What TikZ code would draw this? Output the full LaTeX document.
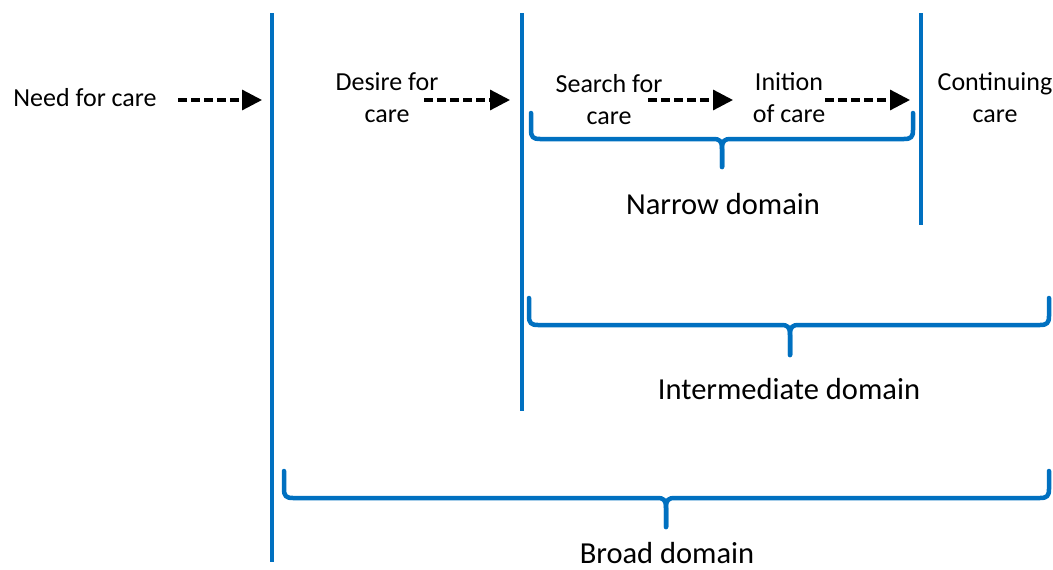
\documentclass[tikz,border=0pt]{standalone}
\usepackage{fontspec}
\setmainfont{Carlito}
\usetikzlibrary{arrows.meta}
\definecolor{bl}{RGB}{0,112,192}
\newcommand{\mybrace}[6]{% x1 x2 xm top h tip
  \draw[brace] (#1,#4) -- (#1,#5-9) .. controls (#1,#5-2) and (#1+2,#5) .. (#1+9,#5) -- (#3-9,#5) .. controls (#3-2,#5) and (#3,#5+2) .. (#3,#5+10) -- (#3,#6);
  \draw[brace] (#2,#4) -- (#2,#5-9) .. controls (#2,#5-2) and (#2-2,#5) .. (#2-9,#5) -- (#3+9,#5) .. controls (#3+2,#5) and (#3,#5+2) .. (#3,#5+10) -- (#3,#6);
}
\begin{document}
\begin{tikzpicture}[x=1pt,y=-1pt,
  vline/.style={draw=bl,line width=4.5pt},
  brace/.style={draw=bl,line width=4.5pt,line join=round,line cap=round},
  lbl/.style={font=\fontsize{26}{32}\selectfont,align=center,inner sep=0pt},
  dom/.style={font=\fontsize{30.5}{36}\selectfont,align=center,inner sep=0pt},
  darr/.style={line width=3.2pt,dash pattern=on 9pt off 4pt,-{Triangle[length=20pt,width=20pt]}}]
\useasboundingbox (0,0) rectangle (1053,570);
% vertical lines
\coordinate (l1t) at (272,13); \coordinate (l1b) at (272,562);
\coordinate (l2t) at (522,13); \coordinate (l2b) at (522,411);
\coordinate (l3t) at (921,13); \coordinate (l3b) at (921,225);
\draw[vline] (l1t) -- (l1b);
\draw[vline] (l2t) -- (l2b);
\draw[vline] (l3t) -- (l3b);
% labels
\node[lbl] (need) at (85,98) {Need for care};
\node[lbl] (desire) at (387,98) {Desire for\\care};
\node[lbl] (search) at (609,100) {Search for\\care};
\node[lbl] (init) at (789,98) {Inition\\of care};
\node[lbl] (cont) at (995,98) {Continuing\\care};
\node[dom] (narrow) at (723,204) {Narrow domain};
\node[dom] (inter) at (789,389) {Intermediate domain};
\node[dom] (broad) at (667,553) {Broad domain};
% arrows
\coordinate (a1s) at (178,100); \coordinate (a1e) at (262,100);
\coordinate (a2s) at (424,100); \coordinate (a2e) at (510,100);
\coordinate (a3s) at (648,100); \coordinate (a3e) at (733,100);
\coordinate (a4s) at (825,100); \coordinate (a4e) at (910,100);
\draw[darr] (a1s) -- (a1e);
\draw[darr] (a2s) -- (a2e);
\draw[darr] (a3s) -- (a3e);
\draw[darr] (a4s) -- (a4e);
% braces
\mybrace{531}{913}{722}{113}{139}{167}
\mybrace{529}{1049}{790}{298}{325}{355}
\mybrace{284}{1049}{666}{471}{498}{527}
\end{tikzpicture}
\end{document}
